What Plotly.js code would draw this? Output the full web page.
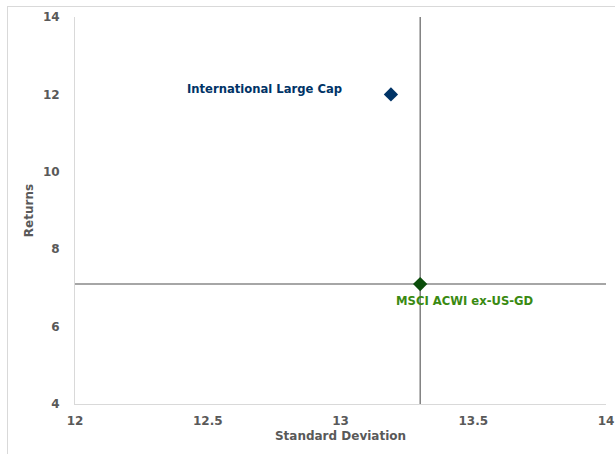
<!DOCTYPE html>
<html><head><meta charset="utf-8">
<script src="https://cdn.plot.ly/plotly-3.0.1.min.js"></script>
<style>
body{margin:0;padding:0;background:#fff;}
#wrap{position:relative;width:615px;height:454px;}
#frame{position:absolute;left:7px;top:6px;width:620px;height:460px;border:1px solid #d9d9d9;box-sizing:border-box;pointer-events:none;}
#chart{position:absolute;left:0;top:0;width:615px;height:454px;}
</style></head>
<body><div id="wrap"><div id="chart"></div><div id="frame"></div></div>
<script>
const names = ["International Large Cap", "MSCI ACWI ex-US-GD"];
const stdDev = [13.19, 13.30];
const returns = [12.0, 7.1];
const colors = ["#003366", "#0B4D0B"];
const labelColors = ["#003366", "#3A8A12"];
const xRange = [12, 14];
const yRange = [4, 14];
const xTicks = [12, 12.5, 13, 13.5, 14];
const yTicks = [4, 6, 8, 10, 12, 14];

const bench = 1;
const font = "DejaVu Sans, Verdana, sans-serif";

const traces = [
  {x: [stdDev[bench], stdDev[bench]], y: yRange, mode: "lines", line: {color: "#404040", width: 1}, hoverinfo: "skip", showlegend: false},
  {x: xRange, y: [returns[bench], returns[bench]], mode: "lines", line: {color: "#A6A6A6", width: 2}, hoverinfo: "skip", showlegend: false},
  {x: stdDev, y: returns, mode: "markers", marker: {symbol: "diamond", size: 11, color: colors}, hoverinfo: "text", text: names, showlegend: false}
];

const layout = {
  width: 615, height: 454,
  margin: {l: 75, r: 9, t: 17, b: 50},
  paper_bgcolor: "#fff", plot_bgcolor: "#fff",
  font: {family: font, size: 12, color: "#595959"},
  xaxis: {range: xRange, tickvals: xTicks, ticktext: xTicks.map(String), showgrid: false, zeroline: false,
    showline: true, linecolor: "#D9D9D9", linewidth: 1, ticks: "outside", ticklen: 6, tickcolor: "rgba(0,0,0,0)",
    ticklabeloverflow: "allow",
    tickfont: {family: font, size: 12, color: "#595959", weight: "bold"},
    title: {text: "<b>Standard Deviation</b>", font: {family: font, size: 12, color: "#595959"}, standoff: 4}},
  yaxis: {range: yRange, tickvals: yTicks, ticktext: yTicks.map(String), showgrid: false, zeroline: false,
    showline: true, linecolor: "#D9D9D9", linewidth: 1, ticks: "outside", ticklen: 12, tickcolor: "rgba(0,0,0,0)",
    ticklabeloverflow: "allow",
    tickfont: {family: font, size: 12, color: "#595959", weight: "bold"},
    title: {text: "<b>Returns</b>", font: {family: font, size: 12, color: "#595959"}, standoff: 6}},
  annotations: [
    {x: stdDev[0], y: returns[0], xref: "x", yref: "y", text: "<b>" + names[0] + "</b>", showarrow: false,
     xanchor: "right", yanchor: "middle", xshift: -47, yshift: 5, font: {family: font, size: 11.6, color: labelColors[0]}},
    {x: stdDev[1], y: returns[1], xref: "x", yref: "y", text: "<b>" + names[1] + "</b>", showarrow: false,
     xanchor: "left", yanchor: "middle", xshift: -26, yshift: -17, font: {family: font, size: 11.6, color: labelColors[1]}}
  ]
};
Plotly.newPlot("chart", traces, layout, {displayModeBar: false, staticPlot: true});
</script></body></html>
